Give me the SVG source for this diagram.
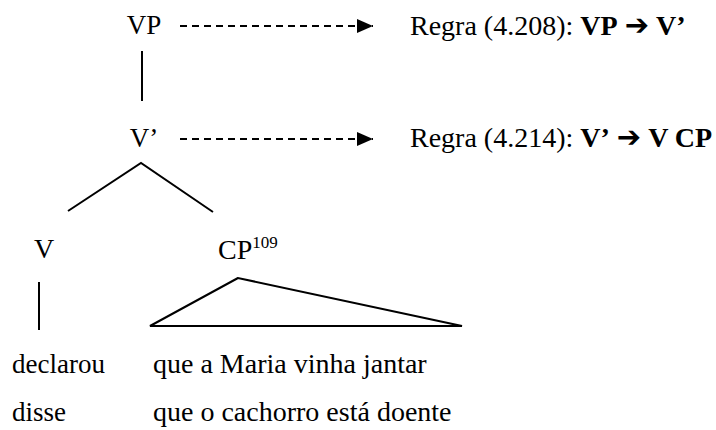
<svg xmlns="http://www.w3.org/2000/svg" width="716" height="430" viewBox="0 0 716 430">
<style>
text{font-family:"Liberation Serif","Times New Roman",serif;font-size:28px;fill:#000}
.b{font-weight:bold}
.t{font-size:27px}
.ar{font-family:"DejaVu Sans",sans-serif;font-weight:bold;font-size:29px}
.ln{stroke:#000;stroke-width:2;fill:none}
.dash{stroke:#000;stroke-width:2;stroke-dasharray:7 5;fill:none}
</style>
<defs>
<marker id="ah" markerWidth="16" markerHeight="14" refX="16" refY="7" orient="auto" markerUnits="userSpaceOnUse">
<path d="M0,0 L16,7 L0,14 Z" fill="#000"/>
</marker>
</defs>
<g id="connectors">
<line class="dash" x1="180" y1="26" x2="373" y2="26" marker-end="url(#ah)"/>
<line class="dash" x1="180" y1="139" x2="373" y2="139" marker-end="url(#ah)"/>
<line class="ln" x1="142" y1="51" x2="142" y2="101"/>
<polyline class="ln" points="68,211 141,163 213,212"/>
<line class="ln" x1="39" y1="282" x2="39" y2="330"/>
<polygon class="ln" points="238,278 150,326 462,326"/>
</g>
<g id="VP"><text class="t" x="144" y="34" text-anchor="middle">VP</text></g>
<g id="rule1"><text x="410" y="35">Regra (4.208): <tspan class="b">VP</tspan> <tspan class="ar">➔</tspan> <tspan class="b">V’</tspan></text></g>
<g id="Vbar"><text class="t" x="144" y="147" text-anchor="middle">V’</text></g>
<g id="rule2"><text x="410" y="147">Regra (4.214): <tspan class="b">V’</tspan> <tspan class="ar">➔</tspan> <tspan class="b">V CP</tspan></text></g>
<g id="V"><text x="44" y="258" font-size="26" text-anchor="middle">V</text></g>
<g id="CP"><text x="218" y="259" font-size="30">CP<tspan font-size="17" dy="-11">109</tspan></text></g>
<g id="words">
<text x="12" y="373" class="t">declarou</text>
<text x="153" y="373">que a Maria vinha jantar</text>
<text x="12" y="421" class="t">disse</text>
<text x="153" y="421">que o cachorro está doente</text>
</g>
</svg>
